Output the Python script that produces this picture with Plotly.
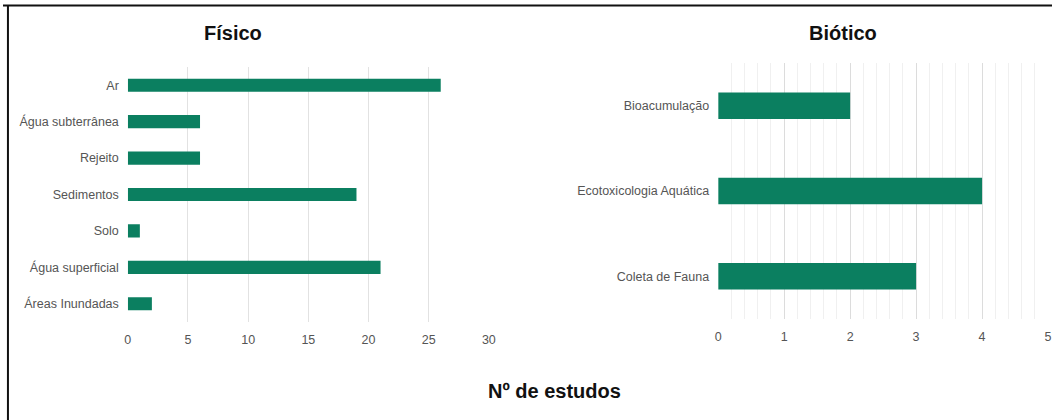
import plotly.graph_objects as go

# ---- data ----
fisico_cats = ["Ar", "Água subterrânea", "Rejeito", "Sedimentos", "Solo", "Água superficial", "Áreas Inundadas"]
fisico_vals = [26, 6, 6, 19, 1, 21, 2]
biotico_cats = ["Bioacumulação", "Ecotoxicologia Aquática", "Coleta de Fauna"]
biotico_vals = [2, 4, 3]
fisico_ticks = [0, 5, 10, 15, 20, 25, 30]
biotico_ticks = [0, 1, 2, 3, 4, 5]

W, H = 1059, 420
GREEN = "#0b7f60"
FONT = "Liberation Sans, Arial, sans-serif"

def px_x(p):
    return p / W

def px_y(p):
    return 1 - p / H

fig = go.Figure()
fig.add_trace(go.Bar(x=fisico_vals, y=fisico_cats, orientation="h",
                     marker=dict(color=GREEN, line=dict(width=0)), width=0.36,
                     xaxis="x", yaxis="y", showlegend=False))
fig.add_trace(go.Bar(x=biotico_vals, y=biotico_cats, orientation="h",
                     marker=dict(color=GREEN, line=dict(width=0)), width=0.31,
                     xaxis="x2", yaxis="y2", showlegend=False))

tickfont = dict(family=FONT, size=12.5, color="#555555")

fig.update_layout(
    width=W, height=H,
    margin=dict(l=0, r=0, t=0, b=0),
    paper_bgcolor="white", plot_bgcolor="white",
    bargap=0.6,
    xaxis=dict(domain=[px_x(126), px_x(490.5)], range=[0, 30], tickvals=fisico_ticks,
               showgrid=True, gridcolor="#e2e2e2", gridwidth=1, zeroline=False,
               showline=False, ticks="", tickfont=tickfont, ticklabelstandoff=8,
               anchor="y", fixedrange=True),
    yaxis=dict(domain=[px_y(322), px_y(67)], categoryorder="array", categoryarray=fisico_cats,
               autorange="reversed", showgrid=False, zeroline=False, showline=False,
               ticks="", tickfont=tickfont, ticklabelstandoff=8, anchor="x"),
    xaxis2=dict(domain=[px_x(722), px_x(1055)], range=[0, 5], tickvals=biotico_ticks,
                showgrid=True, gridcolor="#dcdcdc", gridwidth=1, zeroline=False,
                showline=False, ticks="", tickfont=tickfont, ticklabelstandoff=8, anchor="y2",
                minor=dict(dtick=0.2, showgrid=True, gridcolor="#f0f0f0", gridwidth=1)),
    yaxis2=dict(domain=[px_y(319), px_y(63)], categoryorder="array", categoryarray=biotico_cats,
                autorange="reversed", showgrid=False, zeroline=False, showline=False,
                ticks="", tickfont=tickfont, ticklabelstandoff=8, anchor="x2"),
    annotations=[
        dict(text="<b>Físico</b>", x=px_x(232), y=px_y(33), xref="paper", yref="paper",
             showarrow=False, xanchor="center", yanchor="middle",
             font=dict(family=FONT, size=20, color="#111111")),
        dict(text="<b>Biótico</b>", x=px_x(848), y=px_y(33), xref="paper", yref="paper",
             showarrow=False, xanchor="center", yanchor="middle",
             font=dict(family=FONT, size=20, color="#111111")),
        dict(text="<b>Nº de estudos</b>", x=px_x(557), y=px_y(391), xref="paper", yref="paper",
             showarrow=False, xanchor="center", yanchor="middle",
             font=dict(family=FONT, size=20, color="#111111")),
    ],
    shapes=[
        dict(type="line", xref="paper", yref="paper", x0=0, x1=1, y0=px_y(5.5), y1=px_y(5.5),
             line=dict(color="#111111", width=2)),
        dict(type="line", xref="paper", yref="paper", x0=px_x(5), x1=px_x(5), y0=0, y1=px_y(5),
             line=dict(color="#111111", width=2)),
    ],
)

fig.write_html("out.html")
